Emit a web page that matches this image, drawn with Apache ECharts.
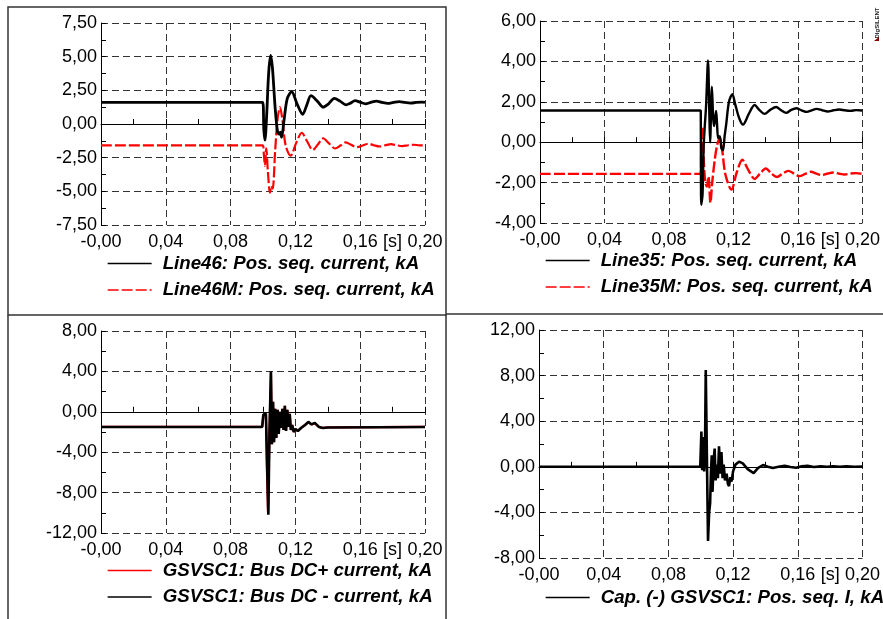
<!DOCTYPE html>
<html>
<head>
<meta charset="utf-8">
<script src="https://cdn.jsdelivr.net/npm/echarts@6/dist/echarts.min.js"></script>
<style>
html, body {margin: 0; padding: 0; background: #fff;}
#chart {width: 883px; height: 619px;}
</style>
</head>
<body>
<div id="chart"></div>
<script>
// top left: Line46 / Line46M (kA) over time [s]
const line46 = [[0,1.6],[0.0998,1.6],[0.1005,-0.4],[0.1012,-1.2],[0.1022,0.5],[0.1035,3.8],[0.1047,5.1],[0.1058,4.2],[0.1075,1.2],[0.109,-0.6],[0.1100,-0.75],[0.1107,-0.6],[0.1115,-1.0],[0.1130,0.3],[0.1150,1.9],[0.1177,2.4],[0.1210,1.5],[0.1245,0.72],[0.1270,1.4],[0.1296,2.1],[0.1335,1.7],[0.1372,1.25],[0.1405,1.5],[0.1440,1.9],[0.1476,1.7],[0.1512,1.42],[0.1540,1.55],[0.1568,1.74],[0.1600,1.62],[0.1632,1.5],[0.1665,1.6],[0.1700,1.7],[0.1735,1.6],[0.1770,1.53],[0.1805,1.6],[0.1840,1.66],[0.1875,1.6],[0.1910,1.55],[0.1945,1.6],[0.1980,1.63],[0.2,1.6]];
const line46M = [[0,-1.58],[0.0998,-1.58],[0.1005,-2.2],[0.1012,-3.1],[0.1020,-1.8],[0.1030,-3.5],[0.1043,-5.1],[0.1052,-4.6],[0.1060,-4.8],[0.1075,-2.0],[0.1090,0.4],[0.1105,1.25],[0.1120,0.3],[0.1140,-1.6],[0.1171,-2.35],[0.1205,-1.4],[0.1239,-0.65],[0.1273,-1.3],[0.1307,-1.93],[0.1340,-1.5],[0.1372,-1.06],[0.1408,-1.45],[0.1445,-1.82],[0.1478,-1.6],[0.1510,-1.36],[0.1545,-1.55],[0.1580,-1.72],[0.1615,-1.6],[0.1650,-1.46],[0.1685,-1.58],[0.1720,-1.67],[0.1755,-1.58],[0.1790,-1.5],[0.1825,-1.58],[0.1860,-1.64],[0.1895,-1.58],[0.1930,-1.54],[0.1965,-1.58],[0.2,-1.58]];

// top right: Line35 / Line35M
const line35 = [[0,1.57],[0.0997,1.57],[0.0998,-1.0],[0.1000,-3.1],[0.1008,-2.6],[0.1015,-0.2],[0.1022,0.8],[0.1030,1.8],[0.1042,4.05],[0.1050,1.5],[0.1055,0.0],[0.1066,2.75],[0.1074,1.2],[0.1080,0.8],[0.1092,1.55],[0.1098,0.9],[0.1105,0.2],[0.1115,0.3],[0.1125,-0.3],[0.1135,-0.4],[0.1145,0.3],[0.1155,0.9],[0.1172,2.0],[0.1193,2.38],[0.1210,1.9],[0.1235,1.2],[0.1259,0.87],[0.1295,1.4],[0.1331,1.84],[0.1360,1.6],[0.1393,1.4],[0.1428,1.6],[0.1465,1.74],[0.1495,1.58],[0.1527,1.45],[0.1558,1.6],[0.1590,1.68],[0.1622,1.58],[0.1655,1.5],[0.1685,1.58],[0.1715,1.65],[0.1750,1.58],[0.1785,1.52],[0.1820,1.58],[0.1855,1.62],[0.1890,1.58],[0.1925,1.55],[0.1960,1.59],[0.2,1.57]];
const line35M = [[0,-1.57],[0.0997,-1.57],[0.1000,-0.5],[0.1007,0.78],[0.1015,-0.8],[0.1025,-2.0],[0.1035,-2.2],[0.1045,-1.7],[0.1057,-3.0],[0.1068,-2.0],[0.1085,-0.8],[0.1100,-0.1],[0.1115,0.2],[0.1130,-0.4],[0.1150,-1.6],[0.1187,-2.35],[0.1220,-1.5],[0.1255,-0.87],[0.1290,-1.35],[0.1331,-1.82],[0.1365,-1.55],[0.1400,-1.3],[0.1435,-1.55],[0.1470,-1.72],[0.1505,-1.55],[0.1540,-1.42],[0.1575,-1.55],[0.1610,-1.68],[0.1645,-1.57],[0.1680,-1.46],[0.1715,-1.56],[0.1750,-1.63],[0.1785,-1.55],[0.1820,-1.5],[0.1855,-1.56],[0.1890,-1.6],[0.1925,-1.55],[0.1960,-1.53],[0.2,-1.57]];

// bottom left: GSVSC1 bus DC currents
const busDCpos = [[0,-1.5],[0.0995,-1.5],[0.1002,-0.3],[0.1010,-0.4],[0.1018,-0.2],[0.1024,-5.5],[0.1031,-10.0],[0.1040,-2.0],[0.1049,3.9],[0.1055,-3.2],[0.1062,1.0],[0.1068,-3.0],[0.1075,0.3],[0.1082,-2.6],[0.1090,0.2],[0.1097,-2.2],[0.1105,0.0],[0.1112,-1.6],[0.1120,0.3],[0.1127,-1.8],[0.1135,0.6],[0.1142,-1.9],[0.1150,0.2],[0.1157,-1.5],[0.1165,-0.2],[0.1172,-1.8],[0.1180,-1.3],[0.1190,-2.0],[0.1200,-1.7],[0.1215,-1.9],[0.1235,-1.6],[0.1260,-1.3],[0.1280,-1.05],[0.1300,-1.25],[0.1320,-1.15],[0.1345,-1.5],[0.1370,-1.6],[0.1400,-1.55],[0.2,-1.5]];
const busDCneg = [[0,-1.5],[0.0995,-1.5],[0.1002,-0.3],[0.1010,-0.4],[0.1018,-0.2],[0.1025,-5.0],[0.1033,-10.2],[0.1040,-2.0],[0.1049,4.0],[0.1055,-3.2],[0.1062,1.0],[0.1068,-3.0],[0.1075,0.3],[0.1082,-2.6],[0.1090,0.2],[0.1097,-2.2],[0.1105,0.0],[0.1112,-1.6],[0.1120,0.3],[0.1127,-1.8],[0.1135,0.6],[0.1142,-1.9],[0.1150,0.2],[0.1157,-1.5],[0.1165,-0.2],[0.1172,-1.8],[0.1180,-1.3],[0.1190,-2.0],[0.1200,-1.7],[0.1215,-1.9],[0.1235,-1.6],[0.1260,-1.3],[0.1280,-1.0],[0.1300,-1.25],[0.1320,-1.1],[0.1345,-1.5],[0.1370,-1.6],[0.1400,-1.55],[0.2,-1.5]];

// bottom right: Cap. (-) GSVSC1 pos. seq. current
const capNeg = [[0,0],[0.0997,0],[0.1004,3.1],[0.1009,-0.3],[0.1015,2.6],[0.1021,-0.4],[0.1026,1.0],[0.1031,8.5],[0.1038,1.0],[0.1045,-6.5],[0.1052,-4.0],[0.1058,-3.2],[0.1063,-0.5],[0.1068,1.0],[0.1073,-2.2],[0.1080,0.6],[0.1086,1.6],[0.1092,-1.2],[0.1100,0.2],[0.1106,-1.0],[0.1113,1.8],[0.1120,-0.6],[0.1128,1.3],[0.1135,-1.0],[0.1142,0.2],[0.1150,-1.2],[0.1160,-0.6],[0.1168,-1.5],[0.1175,-1.7],[0.1183,-0.9],[0.1190,-1.3],[0.1200,-0.4],[0.1215,0.2],[0.1237,0.45],[0.1260,0.3],[0.1290,-0.2],[0.1327,-0.55],[0.1355,-0.1],[0.1385,0.15],[0.1415,0.0],[0.1446,-0.1],[0.1480,0.0],[0.1519,0.1],[0.1555,-0.02],[0.1590,-0.08],[0.1625,0.05],[0.1660,0.08],[0.1700,-0.02],[0.1740,0.04],[0.1780,0.0],[0.1820,0.05],[0.1860,0.0],[0.1900,0.04],[0.1950,0.0],[0.2,0.02]];

const names = {
    l46: 'Line46: Pos. seq. current, kA',
    l46m: 'Line46M: Pos. seq. current, kA',
    l35: 'Line35: Pos. seq. current, kA',
    l35m: 'Line35M: Pos. seq. current, kA',
    dcp: 'GSVSC1: Bus DC+ current, kA',
    dcn: 'GSVSC1: Bus DC - current, kA',
    cap: 'Cap. (-) GSVSC1: Pos. seq. I, kA'
};

// y ranges for the four panels: [min, max, interval]
const yRanges = [[-7.5, 7.5, 2.5], [-4, 6, 2], [-12, 8, 4], [-8, 12, 4]];

const FONT = 'Liberation Sans, Arial, sans-serif';
const fmt = v => v.toFixed(2).replace('.', ',');

// 四个面板的绘图区
const grids = [
    {left: 101, top: 23, width: 324, height: 202},
    {left: 540, top: 21, width: 323, height: 202},
    {left: 101, top: 331, width: 324, height: 202},
    {left: 539, top: 330, width: 324, height: 228}
];

const xAxes = [];
const yAxes = [];
grids.forEach((g, i) => {
    // 主时间轴
    xAxes.push({
        type: 'value', gridIndex: i, position: 'bottom', min: 0, max: 0.2, interval: 0.04,
        axisLine: {lineStyle: {color: '#000', width: 1}},
        axisTick: {show: true, inside: true, length: 5, lineStyle: {color: '#000'}},
        minorTick: {show: true, splitNumber: 2, length: 5, lineStyle: {color: '#000'}},
        axisLabel: {margin: 8, color: '#000', fontSize: 18, fontFamily: FONT,
            formatter: v => (Math.abs(v) < 1e-9 ? '-0,00' : fmt(v))},
        splitLine: {show: true, lineStyle: {color: '#333', type: [7, 4], width: 1}}
    });
    // 单位 [s]
    xAxes.push({
        type: 'value', gridIndex: i, position: 'bottom', min: 0, max: 0.2, interval: 0.02,
        axisLine: {show: false}, axisTick: {show: false}, splitLine: {show: false},
        axisLabel: {margin: 8, color: '#000', fontSize: 18, fontFamily: FONT,
            formatter: v => (Math.abs(v - 0.18) < 1e-6 ? '[s]' : '')}
    });
    const r = yRanges[i];
    yAxes.push({
        type: 'value', gridIndex: i, min: r[0], max: r[1], interval: r[2],
        axisLine: {show: true, lineStyle: {color: '#000', width: 1}},
        axisTick: {show: true, inside: true, length: 5, lineStyle: {color: '#000'}},
        minorTick: {show: true, splitNumber: 2, length: 5, lineStyle: {color: '#000'}},
        axisLabel: {margin: 4, color: '#000', fontSize: 18, fontFamily: FONT, formatter: fmt},
        splitLine: {show: true, lineStyle: {color: '#333', type: [7, 4], width: 1}}
    });
});

const mkLine = (name, data, i, color, width, dash, smooth) => ({
    name: name, type: 'line', data: data, xAxisIndex: 2 * i, yAxisIndex: i,
    showSymbol: false, symbol: 'none', smooth: smooth || false,
    lineStyle: {color: color, width: width, type: dash || 'solid'},
    itemStyle: {color: color}
});

const series = [
    mkLine(names.l46m, line46M, 0, '#ff0000', 2.2, [11, 3], 0.3),
    mkLine(names.l46, line46, 0, '#000', 2.8, null, 0.3),
    mkLine(names.l35m, line35M, 1, '#ff0000', 2.4, [11, 3], 0.3),
    mkLine(names.l35, line35, 1, '#000', 2.4, null, 0.3),
    mkLine(names.dcp, busDCpos, 2, '#ff0000', 2.2),
    mkLine(names.dcn, busDCneg, 2, '#000', 2.6),
    mkLine(names.cap, capNeg, 3, '#000', 2.6)
];

const mkLegend = (data, left, top) => ({
    data: data, left: left, top: top, orient: 'vertical',
    itemWidth: 44, itemHeight: 12, itemGap: 7.5,
    itemStyle: {opacity: 0},
    lineStyle: {width: 1.3},
    textStyle: {color: '#000', fontSize: 18.7, fontWeight: 'bold', fontStyle: 'italic',
        fontFamily: FONT, padding: [0, 0, 0, 6]}
});

const legends = [
    mkLegend([names.l46, names.l46m], 102, 249),
    mkLegend([names.l35, names.l35m], 540, 246),
    mkLegend([names.dcp, names.dcn], 102, 556),
    mkLegend([names.cap], 540, 583)
];

// 面板边框和标志
const frame = {stroke: '#333', lineWidth: 1.5, fill: 'none'};
const graphic = [
    {type: 'rect', shape: {x: 8, y: 7, width: 438, height: 308}, style: frame, silent: true},
    {type: 'line', shape: {x1: 446, y1: 314, x2: 883, y2: 314}, style: frame, silent: true},
    {type: 'line', shape: {x1: 8, y1: 315, x2: 8, y2: 619}, style: frame, silent: true},
    {type: 'line', shape: {x1: 446, y1: 315, x2: 446, y2: 619}, style: frame, silent: true},
    {type: 'text', x: 877, y: 23, rotation: Math.PI / 2,
        style: {text: 'DIgSILENT', fontSize: 6, fontWeight: 'bold', fill: '#222', fontFamily: FONT,
            align: 'center', verticalAlign: 'middle'}},
    {type: 'polygon', shape: {points: [[874, 41], [879, 37], [879, 41]]}, style: {fill: '#8b0000'}}
];

const chart = echarts.init(document.getElementById('chart'));
chart.setOption({
    animation: false,
    backgroundColor: '#fff',
    grid: grids,
    xAxis: xAxes,
    yAxis: yAxes,
    legend: legends,
    series: series,
    graphic: graphic
});
</script>
</body>
</html>
